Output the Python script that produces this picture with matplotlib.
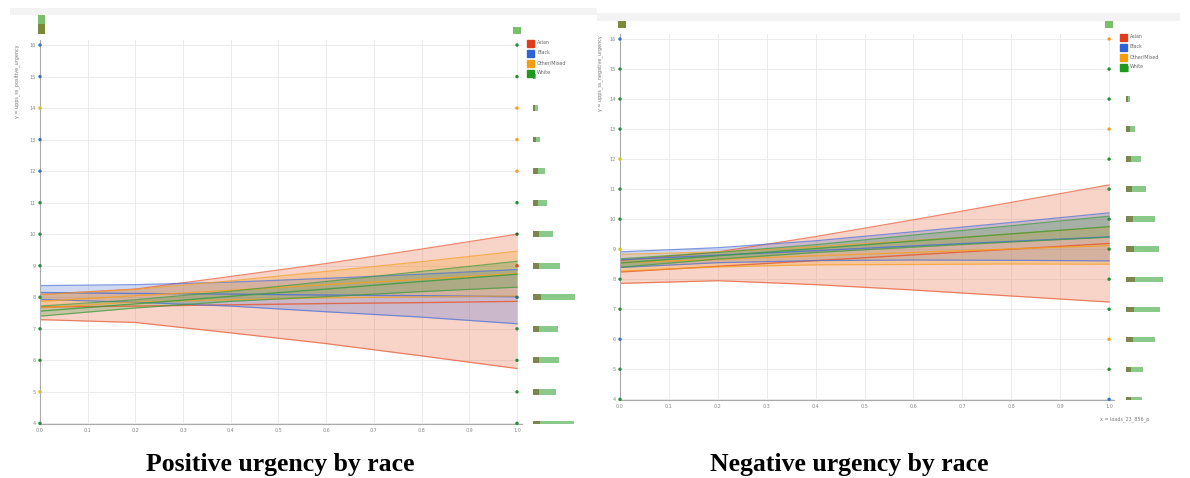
import matplotlib
matplotlib.use("Agg")
import matplotlib.pyplot as plt
from matplotlib.patches import Rectangle
import numpy as np

W, H = 1190, 478

groups = ["Asian", "Black", "Other/Mixed", "White"]
line_col = ["#e4572e", "#4a6fd6", "#f5a021", "#3c9a3c"]
leg_col = ["#e03c1c", "#2e63d6", "#f59d10", "#1f9a1f"]
pt_col = {"g": "#2a8a3a", "o": "#f0a020", "b": "#3a70c0", "r": "#d04a20",
          "y": "#d8c020", "t": "#2a6a6a", "d": "#2e6a2e"}

x_pts = [0.0, 0.2, 0.4, 0.6, 0.8, 1.0]
levels = list(range(4, 17))

# ---- positive urgency (left) ----
pos_mean = {
    "Asian":       [7.69, 7.72, 7.76, 7.80, 7.83, 7.87],
    "Black":       [8.15, 8.12, 8.10, 8.07, 8.05, 8.02],
    "Other/Mixed": [7.87, 8.05, 8.22, 8.40, 8.57, 8.75],
    "White":       [7.56, 7.79, 8.03, 8.26, 8.50, 8.73],
}
pos_upper = {
    "Asian":       [8.09, 8.26, 8.66, 9.07, 9.53, 10.00],
    "Black":       [8.37, 8.40, 8.48, 8.60, 8.73, 8.88],
    "Other/Mixed": [8.08, 8.25, 8.52, 8.82, 9.13, 9.46],
    "White":       [7.72, 7.92, 8.19, 8.50, 8.82, 9.14],
}
pos_lower = {
    "Asian":       [7.29, 7.20, 6.87, 6.53, 6.14, 5.74],
    "Black":       [7.93, 7.84, 7.72, 7.54, 7.37, 7.16],
    "Other/Mixed": [7.66, 7.85, 7.92, 7.98, 8.01, 8.04],
    "White":       [7.40, 7.66, 7.87, 8.02, 8.18, 8.32],
}
pos_hist_total = [41, 23, 26, 25, 42, 27, 20, 14, 12, 7, 5, 3, 2]
pos_hist_dark = [7, 6, 6, 6, 8, 6, 6, 5, 5, 3, 2, 1, 1]
pos_top_dark = [10, 0]
pos_top_light = [10, 7]
pos_x0_cols = ["g", "y", "g", "g", "g", "g", "g", "g", "b", "b", "y", "b", "b"]
pos_x1_cols = ["g", "g", "g", "g", "t", "r", "d", "g", "o", "o", "o", "g", "g"]

# ---- negative urgency (right) ----
neg_mean = {
    "Asian":       [8.24, 8.43, 8.62, 8.81, 9.00, 9.19],
    "Black":       [8.65, 8.80, 8.95, 9.11, 9.26, 9.41],
    "Other/Mixed": [8.55, 8.66, 8.78, 8.89, 9.01, 9.12],
    "White":       [8.54, 8.78, 9.02, 9.27, 9.51, 9.75],
}
neg_upper = {
    "Asian":       [8.62, 8.91, 9.42, 9.98, 10.56, 11.14],
    "Black":       [8.91, 9.05, 9.28, 9.58, 9.89, 10.21],
    "Other/Mixed": [8.83, 8.91, 9.08, 9.29, 9.51, 9.74],
    "White":       [8.68, 8.89, 9.15, 9.47, 9.78, 10.10],
}
neg_lower = {
    "Asian":       [7.86, 7.95, 7.82, 7.64, 7.44, 7.24],
    "Black":       [8.39, 8.55, 8.62, 8.64, 8.63, 8.61],
    "Other/Mixed": [8.27, 8.41, 8.48, 8.49, 8.51, 8.50],
    "White":       [8.40, 8.67, 8.89, 9.07, 9.24, 9.40],
}
neg_hist_total = [16, 17, 29, 34, 37, 33, 29, 20, 15, 9, 4, 3, 1]
neg_hist_dark = [5, 5, 7, 8, 9, 8, 7, 6, 5, 4, 2, 1, 0]
neg_top_dark = [8, 0]
neg_top_light = [0, 8]
neg_x0_cols = ["g", "g", "b", "g", "g", "y", "g", "g", "y", "g", "g", "g", "b"]
neg_x1_cols = ["b", "g", "o", "g", "g", "g", "g", "g", "g", "o", "g", "g", "o"]


def px(x0, y0, x1, y1):
    return [x0 / W, 1 - y1 / H, (x1 - x0) / W, (y1 - y0) / H]


fig = plt.figure(figsize=(W / 100, H / 100), dpi=100)


def panel(box, ylim, xmax, mean, upper, lower, x0c, x1c, hbox, htot, hdark,
          tbox, tdark, tlight, legxy, ylabel, xlabel=None):
    ax = fig.add_axes(px(*box))
    for i, g in enumerate(groups):
        ax.fill_between(x_pts, lower[g], upper[g], color=line_col[i], alpha=0.26, lw=0)
        ax.plot(x_pts, upper[g], color=line_col[i], lw=0.9, alpha=0.7)
        ax.plot(x_pts, lower[g], color=line_col[i], lw=0.9, alpha=0.7)
        ax.plot(x_pts, mean[g], color=line_col[i], lw=1.0, alpha=0.8)
    ax.scatter([0] * len(levels), levels, s=6, c=[pt_col[c] for c in x0c],
               zorder=5, clip_on=False, lw=0)
    ax.scatter([1] * len(levels), levels, s=6, c=[pt_col[c] for c in x1c],
               zorder=5, clip_on=False, lw=0)
    ax.set_xlim(0, xmax)
    ax.set_ylim(*ylim)
    ax.set_xticks(np.arange(0, 1.01, 0.1))
    ax.set_xticklabels([f"{v:.1f}" for v in np.arange(0, 1.01, 0.1)])
    ax.set_yticks(levels)
    ax.grid(color="#ececec", lw=0.7)
    ax.set_axisbelow(True)
    ax.tick_params(length=0, labelsize=3.5, labelcolor="#888888", pad=3)
    for s in ["top", "right"]:
        ax.spines[s].set_visible(False)
    for s in ["left", "bottom"]:
        ax.spines[s].set_color("#aaaaaa")
        ax.spines[s].set_linewidth(0.8)

    # right marginal histogram
    hx = fig.add_axes(px(*hbox))
    hx.barh(levels, hdark, height=0.18, color="#6e7a3a", alpha=0.9)
    hx.barh(levels, [t - d for t, d in zip(htot, hdark)], left=hdark,
            height=0.18, color="#7cc47c", alpha=0.9)
    hx.set_ylim(*ylim)
    hx.set_xlim(0, hbox[2] - hbox[0])
    hx.axis("off")

    # top marginal histogram
    tx = fig.add_axes(px(*tbox))
    tx.bar([0.004, 1], tdark, width=0.015, color="#7a8a3a", clip_on=False)
    tx.bar([0.004, 1], tlight, bottom=tdark, width=0.015, color="#7cbf6a",
           clip_on=False)
    tx.set_xlim(0, xmax)
    tx.set_ylim(0, tbox[3] - tbox[1])
    tx.axis("off")

    # legend
    lx, ly = legxy
    for i, g in enumerate(groups):
        yy = ly + i * 10.3
        fig.patches.append(Rectangle((lx / W, 1 - (yy + 3.5) / H), 7 / W, 7 / H,
                                     transform=fig.transFigure, color=leg_col[i]))
        fig.text((lx + 10) / W, 1 - (yy - 1) / H, g, fontsize=3.4, color="#666666",
                 va="center", ha="left")

    fig.text(ylabel[0] / W, 1 - ylabel[1] / H, ylabel[2], rotation=90, fontsize=3.5,
             color="#777777", ha="center", va="top")
    if xlabel:
        fig.text(xlabel[0] / W, 1 - xlabel[1] / H, xlabel[2], fontsize=3.5,
                 color="#777777", ha="center", va="center")
    return ax


# top grey strips
fig.patches.append(Rectangle((10 / W, 1 - 15 / H), 587 / W, 7 / H,
                             transform=fig.transFigure, color="#f3f3f3", lw=0))
fig.patches.append(Rectangle((597 / W, 1 - 21 / H), 583 / W, 8 / H,
                             transform=fig.transFigure, color="#f3f3f3", lw=0))

panel((40, 40, 522, 424), (3.98, 16.16), 1.0105, pos_mean, pos_upper, pos_lower,
      pos_x0_cols, pos_x1_cols, (533, 40, 590, 424), pos_hist_total, pos_hist_dark,
      (40, 14, 522, 34), pos_top_dark, pos_top_light, (527, 43),
      (17, 45, "y = upps_ss_positive_urgency"))

panel((620, 34, 1114, 400), (3.977, 16.167), 1.01, neg_mean, neg_upper, neg_lower,
      neg_x0_cols, neg_x1_cols, (1126, 34, 1185, 400), neg_hist_total, neg_hist_dark,
      (620, 20, 1114, 28), neg_top_dark, neg_top_light, (1120, 37),
      (600, 35, "y = upps_ss_negative_urgency"), (1125, 419, "x = loads_23_856_p"))

fig.text(280 / W, 1 - 464 / H, "Positive urgency by race", fontsize=18.5,
         fontweight="bold", family="Liberation Serif", ha="center", va="center")
fig.text(849 / W, 1 - 464 / H, "Negative urgency by race", fontsize=18.5,
         fontweight="bold", family="Liberation Serif", ha="center", va="center")

fig.savefig("out.png", dpi=100)
